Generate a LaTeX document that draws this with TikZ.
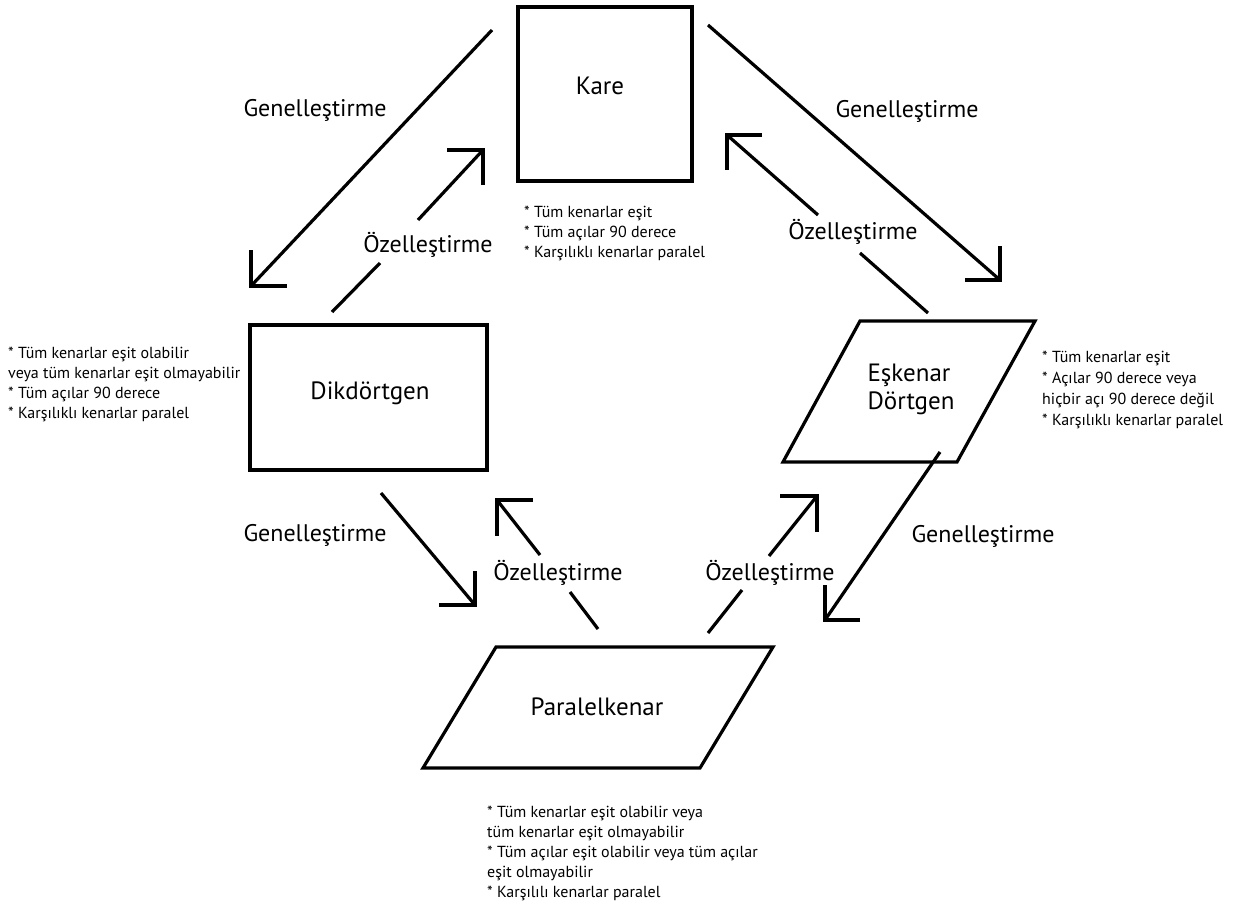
\documentclass[tikz,border=0pt]{standalone}
\usepackage{fontspec}
\setmainfont{PT Sans}
\usetikzlibrary{calc}

\tikzset{
  shapebox/.style={draw, line width=3.2pt, inner sep=0pt},
  shapetext/.style={font=\fontsize{25}{28}\selectfont, inner sep=0pt},
  arrowlabel/.style={font=\fontsize{24}{28}\selectfont, inner sep=0pt},
  notes/.style={font=\fontsize{16}{20}\selectfont, align=left, anchor=north west, inner sep=0pt},
  conn/.style={line width=3.2pt},
  barb/.style={line width=3.2pt, line join=miter},
}

\begin{document}
\begin{tikzpicture}[x=1pt, y=-1pt]
\useasboundingbox[fill=white] (0,0) rectangle (1234,908);

% ---- quadrilaterals ----
\node[shapebox, minimum width=174pt, minimum height=174pt] (kare) at (605,94) {};
\node[shapetext] (karetxt) at (600,86) {Kare};

\node[shapebox, minimum width=237pt, minimum height=145pt] (dik) at (368.5,397.5) {};
\node[shapetext] (diktxt) at (370,393) {Dikdörtgen};

\coordinate (e1) at (860,321);
\coordinate (e2) at (1035,321);
\coordinate (e3) at (957,462);
\coordinate (e4) at (783,462);
\draw[line width=3.2pt, line join=miter] (e1) -- (e2) -- (e3) -- (e4) -- cycle;
\node[shapetext, align=left] (esktxt) at (911,389) {Eşkenar\\Dörtgen};

\coordinate (p1) at (496,647);
\coordinate (p2) at (773,647);
\coordinate (p3) at (700,768);
\coordinate (p4) at (423,768);
\draw[line width=3.2pt, line join=miter] (p1) -- (p2) -- (p3) -- (p4) -- cycle;
\node[shapetext] (partxt) at (597,707) {Paralelkenar};

% ---- Kare -> Dikdortgen (Genellestirme) ----
\coordinate (g1s) at (492,30);
\coordinate (g1t) at (251,286);
\draw[conn] (g1s) -- (g1t);
\draw[barb] ($(g1t)+(0,-36)$) -- (g1t) -- ($(g1t)+(36,0)$);
\node[arrowlabel] (g1l) at (315,110) {Genelleştirme};

% ---- Dikdortgen -> Kare (Ozellestirme) ----
\coordinate (o1s) at (332,312);
\coordinate (o1a) at (380,263);
\coordinate (o1b) at (418,220);
\coordinate (o1t) at (483,150);
\draw[conn] (o1s) -- (o1a);
\draw[conn] (o1b) -- (o1t);
\draw[barb] ($(o1t)+(-36,0)$) -- (o1t) -- ($(o1t)+(0,35)$);
\node[arrowlabel] (o1l) at (428,245) {Özelleştirme};

% ---- Kare -> Eskenar Dortgen (Genellestirme) ----
\coordinate (g2s) at (708,25);
\coordinate (g2t) at (1000,280);
\draw[conn] (g2s) -- (g2t);
\draw[barb] ($(g2t)+(0,-34)$) -- (g2t) -- ($(g2t)+(-35,0)$);
\node[arrowlabel] (g2l) at (907,111) {Genelleştirme};

% ---- Eskenar Dortgen -> Kare (Ozellestirme) ----
\coordinate (o2s) at (928,313);
\coordinate (o2a) at (860,253);
\coordinate (o2b) at (818,215);
\coordinate (o2t) at (727,135);
\draw[conn] (o2s) -- (o2a);
\draw[conn] (o2b) -- (o2t);
\draw[barb] ($(o2t)+(35,0)$) -- (o2t) -- ($(o2t)+(0,35)$);
\node[arrowlabel] (o2l) at (853,232) {Özelleştirme};

% ---- Dikdortgen -> Paralelkenar (Genellestirme) ----
\coordinate (g3s) at (381,493);
\coordinate (g3t) at (475,605);
\draw[conn] (g3s) -- (g3t);
\draw[barb] ($(g3t)+(0,-34)$) -- (g3t) -- ($(g3t)+(-36,0)$);
\node[arrowlabel] (g3l) at (315,535) {Genelleştirme};

% ---- Paralelkenar -> Dikdortgen (Ozellestirme) ----
\coordinate (o3s) at (598,629);
\coordinate (o3a) at (570,592);
\coordinate (o3b) at (540,555);
\coordinate (o3t) at (497,500);
\draw[conn] (o3s) -- (o3a);
\draw[conn] (o3b) -- (o3t);
\draw[barb] ($(o3t)+(36,0)$) -- (o3t) -- ($(o3t)+(0,36)$);
\node[arrowlabel] (o3l) at (558,573) {Özelleştirme};

% ---- Paralelkenar -> Eskenar Dortgen (Ozellestirme) ----
\coordinate (o4s) at (708,633);
\coordinate (o4a) at (742,590);
\coordinate (o4b) at (769,556);
\coordinate (o4t) at (817,496);
\draw[conn] (o4s) -- (o4a);
\draw[conn] (o4b) -- (o4t);
\draw[barb] ($(o4t)+(-37,0)$) -- (o4t) -- ($(o4t)+(0,36)$);
\node[arrowlabel] (o4l) at (770,573) {Özelleştirme};

% ---- Eskenar Dortgen -> Paralelkenar (Genellestirme) ----
\coordinate (g4s) at (940,452);
\coordinate (g4t) at (825,620);
\draw[conn] (g4s) -- (g4t);
\draw[barb] ($(g4t)+(0,-35)$) -- (g4t) -- ($(g4t)+(35,0)$);
\node[arrowlabel] (g4l) at (983,536) {Genelleştirme};

% ---- property notes ----
\node[notes] (karenotes) at (524,206) {* Tüm kenarlar eşit\\* Tüm açılar 90 derece\\* Karşılıklı kenarlar paralel};

\node[notes] (diknotes) at (8,347) {* Tüm kenarlar eşit olabilir\\veya tüm kenarlar eşit olmayabilir\\* Tüm açılar 90 derece\\* Karşılıklı kenarlar paralel};

\node[notes, font=\fontsize{16}{21}\selectfont] (esknotes) at (1042,351) {* Tüm kenarlar eşit\\* Açılar 90 derece veya\\hiçbir açı 90 derece değil\\* Karşılıklı kenarlar paralel};

\node[notes] (parnotes) at (487,806) {* Tüm kenarlar eşit olabilir veya\\tüm kenarlar eşit olmayabilir\\* Tüm açılar eşit olabilir veya tüm açılar\\eşit olmayabilir\\* Karşılılı kenarlar paralel};

\end{tikzpicture}
\end{document}
